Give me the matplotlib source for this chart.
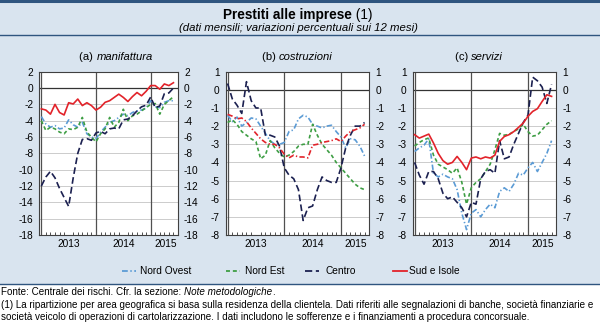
import matplotlib
matplotlib.use("Agg")
import matplotlib.pyplot as plt
from matplotlib.lines import Line2D
import numpy as np

plt.rcParams['font.family'] = ['Liberation Sans', 'DejaVu Sans']

# ---------------- data (monthly, Dec 2012 - May 2015) ----------------
months = list(range(30))
year_labels = ["2013", "2014", "2015"]
series_names = ["Nord Ovest", "Nord Est", "Centro", "Sud e Isole"]

manif_no = [-3.5, -4.4, -4.8, -4.6, -5.0, -4.9, -3.9, -4.5, -4.8, -4.2, -5.6, -6.0, -6.2, -5.4, -4.8,
            -4.2, -4.0, -3.6, -3.2, -3.4, -3.0, -2.8, -2.7, -2.45, -1.55, -2.3, -2.4, -1.75, -1.55, -1.55]
manif_ne = [-4.0, -5.2, -4.8, -5.0, -5.4, -5.6, -5.0, -5.1, -4.8, -3.6, -5.4, -6.0, -6.6, -5.6, -5.0,
            -3.6, -4.8, -4.2, -2.6, -4.0, -3.4, -3.2, -2.8, -2.4, -2.0, -1.9, -3.2, -2.0, -1.55, -1.05]
manif_ce = [-12.0, -10.9, -10.2, -11.0, -12.3, -13.4, -14.5, -11.0, -8.0, -6.3, -6.2, -6.4, -5.5, -5.3, -5.6,
            -5.0, -4.9, -5.0, -3.9, -3.8, -3.4, -2.8, -2.3, -2.1, -1.1, -2.4, -2.2, -0.7, -0.6, 0.0]
manif_si = [-2.55, -2.7, -3.2, -2.0, -3.0, -3.3, -1.8, -1.95, -1.35, -2.15, -1.8, -2.15, -2.7, -2.35, -1.75,
            -1.55, -1.15, -0.75, -1.15, -1.65, -1.05, -0.55, -0.95, -0.4, 0.3, 0.3, -0.15, 0.5, 0.3, 0.65]

costr_no = [-1.4, -1.75, -1.5, -2.0, -1.8, -1.55, -1.6, -2.0, -2.4, -2.8, -3.0, -3.0, -2.9, -2.3, -2.2,
            -1.6, -1.4, -1.5, -1.9, -2.0, -2.1, -2.0, -1.95, -2.3, -2.6, -3.2, -2.7, -2.75, -3.1, -3.65]
costr_ne = [-1.8, -1.65, -1.9, -2.3, -2.5, -2.7, -2.85, -3.8, -3.6, -2.8, -3.2, -3.5, -3.7, -3.6, -3.4,
            -3.1, -3.0, -3.0, -1.9, -2.5, -3.0, -3.3, -3.6, -4.0, -4.3, -4.6, -4.9, -5.2, -5.4, -5.5]
costr_ce = [0.35, -0.5, -0.85, -1.3, 0.45, -0.6, -1.0, -1.0, -2.5, -2.5, -2.6, -3.1, -4.3, -4.7, -4.9,
            -5.5, -7.2, -6.5, -6.4, -5.5, -4.8, -5.0, -5.1, -5.1, -4.3, -3.2, -2.5, -2.0, -2.0, -1.8]
costr_si = [-1.35, -1.45, -1.6, -1.55, -1.75, -2.1, -2.4, -2.7, -2.9, -3.0, -3.0, -3.2, -3.55, -3.75, -3.6,
            -3.7, -3.7, -3.75, -3.05, -3.0, -2.9, -2.85, -2.8, -2.7, -2.85, -2.55, -2.3, -2.2, -2.1, -1.9]

serv_no = [-3.4, -3.2, -3.05, -2.7, -4.6, -4.8, -4.65, -4.8, -4.9, -5.5, -6.8, -7.7, -6.8, -6.6, -7.0,
           -6.6, -6.3, -6.5, -5.6, -5.4, -5.6, -5.2, -4.6, -4.7, -4.3, -4.0, -4.5, -4.0, -3.5, -2.8]
serv_ne = [-3.1, -2.9, -2.75, -2.65, -3.6, -4.1, -4.25, -4.4, -4.6, -4.3, -5.1, -6.3, -5.4, -5.1, -4.9,
           -4.5, -4.1, -3.3, -2.4, -2.5, -2.45, -2.3, -2.15, -1.9, -2.3, -2.55, -2.5, -2.2, -1.9, -1.7]
serv_ce = [-4.0, -4.7, -5.2, -4.5, -4.5, -4.9, -5.7, -6.0, -5.9, -6.2, -6.5, -7.0, -6.2, -6.3, -4.9,
           -4.5, -4.4, -4.6, -2.8, -3.8, -3.7, -3.0, -2.4, -1.8, -1.4, 0.7, 0.5, 0.15, -0.75, 0.3]
serv_si = [-2.47, -2.66, -2.55, -2.44, -2.93, -3.5, -3.9, -4.1, -4.0, -3.67, -4.0, -4.4, -3.76, -3.7, -3.8,
           -3.7, -3.76, -3.6, -2.84, -2.57, -2.47, -2.3, -2.07, -1.83, -1.46, -1.19, -1.04, -0.64, -0.27, -0.36]

panels = [
    ("(a) ", "manifattura", [manif_no, manif_ne, manif_ce, manif_si], (-18, 2), 2),
    ("(b) ", "costruzioni", [costr_no, costr_ne, costr_ce, costr_si], (-8, 1), 1),
    ("(c) ", "servizi", [serv_no, serv_ne, serv_ce, serv_si], (-8, 1), 1),
]

# ---------------- styles ----------------
BG = '#d9e4ef'
DARK = '#2f557f'
colors = ['#5b9bd5', '#3e9e44', '#1b2050', '#e2232a']
styles = [(0, (3.2, 1.4, 0.8, 1.4)), (0, (2.2, 1.6)), (0, (4.0, 2.0)), '-']
styles_b = [(0, (3.2, 1.4, 0.8, 1.4)), (0, (2.2, 1.6)), (0, (4.0, 2.0)), (0, (3.2, 1.4, 0.8, 1.4))]

W, H = 600, 326
fig = plt.figure(figsize=(6.0, 3.26), dpi=100, facecolor=BG)

def fx(px):
    return px / W

def fy(py):
    return 1 - py / H

# white footnote area
fig.patches.append(plt.Rectangle((0, 0), 1, fy(284), transform=fig.transFigure,
                                 facecolor='white', edgecolor='none', zorder=0))
# separators
for yy, lw in [(0.8, 2.2), (35, 1.0), (284, 1.0)]:
    fig.add_artist(Line2D([0, 1], [fy(yy), fy(yy)], transform=fig.transFigure, color=DARK, lw=lw))

axes_px = [(39.5, 178.0), (225.7, 369.3), (412.7, 556.3)]
top_px, bot_px = 71.7, 235.0
title_cx = [116, 297, 479]

fs = 7.3
renderer = fig.canvas.get_renderer()

def two_part(x_center, y, part1, part2, kw1, kw2, size):
    t1 = fig.text(0, fy(y), part1, fontsize=size, va='center', ha='left', **kw1)
    t2 = fig.text(0, fy(y), part2, fontsize=size, va='center', ha='left', **kw2)
    w1 = t1.get_window_extent(renderer).width
    w2 = t2.get_window_extent(renderer).width
    x0 = x_center - (w1 + w2) / 2
    t1.set_x(fx(x0))
    t2.set_x(fx(x0 + w1))

for k, (lab, ital, data, ylim, step) in enumerate(panels):
    l, r = axes_px[k]
    ax = fig.add_axes([fx(l), fy(bot_px), fx(r) - fx(l), fy(top_px) - fy(bot_px)])
    ax.set_facecolor('white')
    ax.set_xlim(-0.4, 30.0)
    ax.set_ylim(*ylim)
    yt = np.arange(ylim[0], ylim[1] + 0.01, step)
    ax.set_yticks(yt)
    ax.set_yticklabels([f"{int(v)}" for v in yt])
    for v in yt:
        if v == 0:
            ax.axhline(0, color='#333333', lw=0.9, zorder=2)
        else:
            ax.axhline(v, color='#c4c4c4', lw=0.6, zorder=1)
    for xv in [0, 12, 24]:
        ax.axvline(xv, color='#505050', lw=0.9, zorder=2)
    sty = styles_b if k == 1 else styles
    for s in range(4):
        ax.plot(months, data[s], color=colors[s], linestyle=sty[s], lw=1.2, zorder=3 + s,
                dash_capstyle='butt')
    ax.set_xticks([6, 18, 27.2])
    ax.set_xticklabels(year_labels)
    ax.set_xticks(np.arange(0, 30), minor=True)
    ax.tick_params(axis='x', which='major', length=0, pad=3, labelsize=fs)
    ax.tick_params(axis='x', which='minor', direction='in', length=2.5, width=0.6, color='#333333')
    ax.tick_params(axis='y', which='both', length=0, labelsize=fs, labelright=True, right=False,
                   pad=4.3)
    for sp in ax.spines.values():
        sp.set_color('#404040')
        sp.set_linewidth(0.8)
    two_part(title_cx[k], 57, lab, ital, {}, {'style': 'italic'}, 8.1)

# title
two_part(298, 15.5, "Prestiti alle imprese", " (1)", {'weight': 'bold'}, {}, 9.8)
fig.text(fx(298), fy(28), "(dati mensili; variazioni percentuali sui 12 mesi)", fontsize=8.2,
         style='italic', ha='center', va='center')

# legend
leg_items = [(122, 140), (226, 245), (305, 325), (393, 409)]
leg_y = 271
for s in range(4):
    hx0, tx = leg_items[s]
    fig.add_artist(Line2D([fx(hx0), fx(hx0 + 14)], [fy(leg_y), fy(leg_y)], transform=fig.transFigure,
                          color=colors[s], linestyle=styles[s], lw=1.3))
    fig.text(fx(tx), fy(leg_y), series_names[s], fontsize=fs, ha='left', va='center')

# footnotes
fn = 7.12
t1 = fig.text(fx(1), fy(292), "Fonte: Centrale dei rischi. Cfr. la sezione: ", fontsize=fn, va='center', ha='left')
w1 = t1.get_window_extent(renderer).width
t2 = fig.text(fx(1 + w1), fy(292), "Note metodologiche", fontsize=fn, va='center', ha='left', style='italic')
w2 = t2.get_window_extent(renderer).width
fig.text(fx(1 + w1 + w2), fy(292), ".", fontsize=fn, va='center', ha='left')
fig.text(fx(1), fy(305), "(1) La ripartizione per area geografica si basa sulla residenza della clientela. Dati riferiti alle segnalazioni di banche, società finanziarie e",
         fontsize=fn, va='center', ha='left')
fig.text(fx(1), fy(317), "società veicolo di operazioni di cartolarizzazione. I dati includono le sofferenze e i finanziamenti a procedura concorsuale.",
         fontsize=fn, va='center', ha='left')

fig.savefig("out.png", dpi=100, facecolor=BG)
